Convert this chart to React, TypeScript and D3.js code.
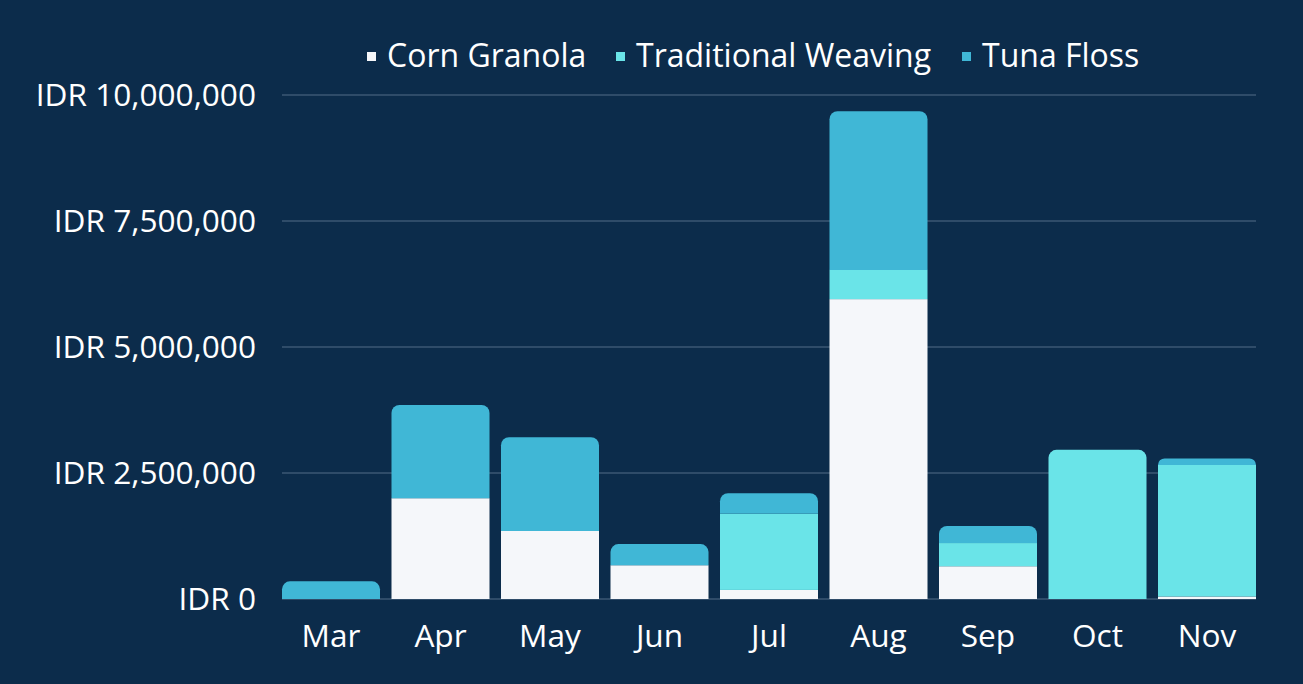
import React, { useEffect, useRef } from "react";
import * as d3 from "d3";

const months = ["Mar", "Apr", "May", "Jun", "Jul", "Aug", "Sep", "Oct", "Nov"];
const seriesNames = ["Corn Granola", "Traditional Weaving", "Tuna Floss"];
const cornGranola = [0, 2000000, 1350000, 670000, 180000, 5950000, 650000, 0, 50000];
const traditionalWeaving = [0, 0, 0, 0, 1510000, 580000, 460000, 2960000, 2610000];
const tunaFloss = [350000, 1850000, 1860000, 420000, 410000, 3150000, 340000, 0, 130000];
const yTicks = [0, 2500000, 5000000, 7500000, 10000000];
const colors = ["#f5f7fa", "#6ae4e8", "#40b7d6"];

const W = 1303;
const H = 684;

const App = () => {
  const svgRef = useRef<SVGSVGElement | null>(null);

  useEffect(() => {
    const svg = d3.select(svgRef.current);
    svg.selectAll("*").remove();

    const font = "'Open Sans', 'Noto Sans', sans-serif";
    const left = 282;
    const right = 1256;
    const top = 95;
    const bottom = 599;

    svg.append("rect").attr("width", W).attr("height", H).attr("fill", "#0c2c4b");

    const x = d3.scaleBand<string>().domain(months).range([left, right]).paddingInner(0.105).paddingOuter(0);
    const y = d3.scaleLinear().domain([0, 10000000]).range([bottom, top]);

    // grid lines
    svg
      .append("g")
      .selectAll("line")
      .data(yTicks)
      .join("line")
      .attr("x1", left)
      .attr("x2", right)
      .attr("y1", (d) => y(d))
      .attr("y2", (d) => y(d))
      .attr("stroke", "#526d88")
      .attr("stroke-width", 1.2);

    // y labels
    const fmt = d3.format(",");
    svg
      .append("g")
      .selectAll("text")
      .data(yTicks)
      .join("text")
      .attr("x", 256)
      .attr("y", (d) => y(d))
      .attr("dy", "0.35em")
      .attr("text-anchor", "end")
      .attr("fill", "#ffffff")
      .attr("font-family", font)
      .attr("font-size", 31.6)
      .text((d) => `IDR ${fmt(d)}`);

    // x labels
    svg
      .append("g")
      .selectAll("text")
      .data(months)
      .join("text")
      .attr("x", (d) => (x(d) as number) + x.bandwidth() / 2)
      .attr("y", 636)
      .attr("dy", "0.35em")
      .attr("text-anchor", "middle")
      .attr("fill", "#ffffff")
      .attr("font-family", font)
      .attr("font-size", 31.6)
      .text((d) => d);

    const table = months.map((m, i) => ({
      month: m,
      "Corn Granola": cornGranola[i],
      "Traditional Weaving": traditionalWeaving[i],
      "Tuna Floss": tunaFloss[i],
    }));
    const stacked = d3.stack<any>().keys(seriesNames)(table);

    // which series is the topmost non-zero for each month
    const topIdx = months.map((_, i) => {
      let t = -1;
      stacked.forEach((s, k) => {
        if (s[i][1] - s[i][0] > 0) t = k;
      });
      return t;
    });

    const r = 8;
    const bw = x.bandwidth();
    stacked.forEach((s, k) => {
      const g = svg.append("g");
      s.forEach((seg, i) => {
        const v = seg[1] - seg[0];
        if (v <= 0) return;
        const x0 = x(months[i]) as number;
        const y0 = y(seg[1]);
        const y1 = y(seg[0]);
        const h = y1 - y0;
        if (topIdx[i] === k) {
          const rr = Math.min(r, h, bw / 2);
          const p = d3.path();
          p.moveTo(x0, y1);
          p.lineTo(x0, y0 + rr);
          p.arcTo(x0, y0, x0 + rr, y0, rr);
          p.lineTo(x0 + bw - rr, y0);
          p.arcTo(x0 + bw, y0, x0 + bw, y0 + rr, rr);
          p.lineTo(x0 + bw, y1);
          p.closePath();
          g.append("path").attr("d", p.toString()).attr("fill", colors[k]);
        } else {
          g.append("rect")
            .attr("x", x0)
            .attr("y", y0)
            .attr("width", bw)
            .attr("height", h)
            .attr("fill", colors[k]);
        }
      });
    });

    // legend
    const legendX = [367, 616, 962];
    const lg = svg.append("g");
    seriesNames.forEach((name, i) => {
      lg.append("rect")
        .attr("x", legendX[i])
        .attr("y", 52)
        .attr("width", 9)
        .attr("height", 9)
        .attr("fill", colors[i]);
      lg.append("text")
        .attr("x", legendX[i] + 20)
        .attr("y", 56)
        .attr("dy", "0.35em")
        .attr("fill", "#ffffff")
        .attr("font-family", font)
        .attr("font-size", 32)
        .text(name);
    });
  }, []);

  return (
    <svg
      ref={svgRef}
      width={W}
      height={H}
      style={{ position: "absolute", left: 0, top: 0, display: "block" }}
    />
  );
};

export default App;
